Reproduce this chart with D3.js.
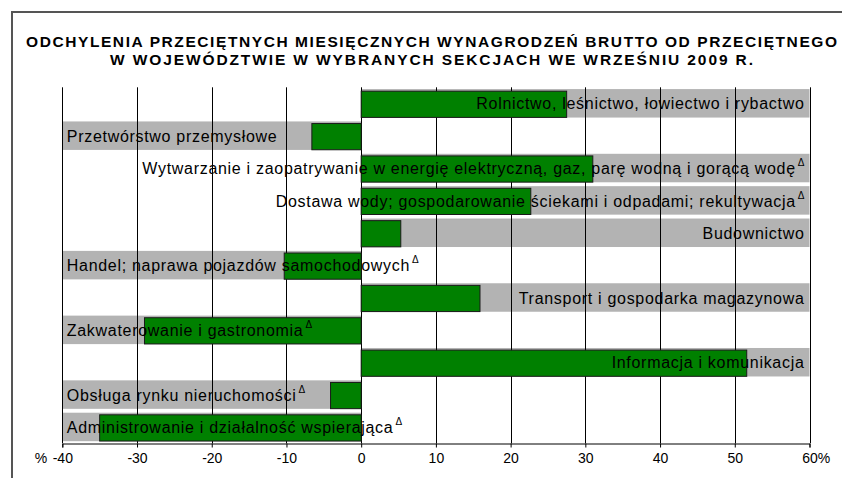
<!DOCTYPE html>
<html><head><meta charset="utf-8">
<script src="https://cdn.jsdelivr.net/npm/d3@7"></script>
<style>
html,body{margin:0;padding:0;background:#fff;}
svg{display:block;font-family:"Liberation Sans",Arial,sans-serif;}
</style></head>
<body><svg id="chart" width="842" height="478"></svg>
<script>
const titleLines = [
  "ODCHYLENIA PRZECIĘTNYCH MIESIĘCZNYCH WYNAGRODZEŃ BRUTTO OD PRZECIĘTNEGO",
  "W WOJEWÓDZTWIE W WYBRANYCH SEKCJACH WE WRZEŚNIU 2009 R."
];
const categories = [
  "Rolnictwo, leśnictwo, łowiectwo i rybactwo",
  "Przetwórstwo przemysłowe",
  "Wytwarzanie i zaopatrywanie w energię elektryczną, gaz, parę wodną i gorącą wodę",
  "Dostawa wody; gospodarowanie ściekami i odpadami; rekultywacja",
  "Budownictwo",
  "Handel; naprawa pojazdów samochodowych",
  "Transport i gospodarka magazynowa",
  "Zakwaterowanie i gastronomia",
  "Informacja i komunikacja",
  "Obsługa rynku nieruchomości",
  "Administrowanie i działalność wspierająca"
];
const values = [27.5, -6.6, 31.0, 22.7, 5.3, -10.3, 15.9, -29.0, 51.6, -4.1, -35.0];
const flagged = [false, false, true, true, false, true, false, true, false, true, true];
const tickValues = [-40, -30, -20, -10, 0, 10, 20, 30, 40, 50, 60];
const flagMark = "\u0394";

(function () {
const svg = d3.select("#chart");
const pLeft = 62.3, pRight = 809.5, pTop = 87.3, pBottom = 443.3;

// outer frame
svg.append("rect").attr("x", 12).attr("y", 12).attr("width", 840).attr("height", 480)
  .attr("fill", "none").attr("stroke", "#555").attr("stroke-width", 2);

// title
const tl = [{t: titleLines[0], y: 46.8, w: 811}, {t: titleLines[1], y: 65.2, w: 643}];
tl.forEach(d => {
  svg.append("text").attr("x", 431.5).attr("y", d.y).attr("text-anchor", "middle")
    .attr("font-size", 15.5).attr("font-weight", "bold").attr("fill", "#000")
    .attr("textLength", d.w).attr("lengthAdjust", "spacing").text(d.t);
});

const x = d3.scaleLinear().domain([tickValues[0], tickValues[tickValues.length - 1]]).range([pLeft, pRight]);
const y = d3.scaleBand().domain(categories).range([pTop, pBottom]);
const step = y.step();
const [dmin, dmax] = x.domain();

// grey label-background bars
svg.append("g").selectAll("rect").data(categories).join("rect")
  .attr("x", (c, i) => values[i] >= 0 ? x(0) : x(dmin))
  .attr("width", (c, i) => values[i] >= 0 ? x(dmax) - x(0) : x(0) - x(dmin))
  .attr("y", c => y(c) + step * 0.055)
  .attr("height", step * 0.88)
  .attr("fill", "#b3b3b3");

// gridlines
svg.append("g").selectAll("line").data(tickValues).join("line")
  .attr("x1", d => Math.round(x(d)) + 0.5).attr("x2", d => Math.round(x(d)) + 0.5)
  .attr("y1", pTop).attr("y2", pBottom)
  .attr("stroke", "#000").attr("stroke-width", 1);

// axis
const axis = d3.axisBottom(x).tickValues(tickValues).tickSize(4).tickPadding(6)
  .tickFormat(d => d < 0 ? "-" + Math.abs(d) : String(d));
const ag = svg.append("g").attr("transform", `translate(0,${Math.round(pBottom) + 0.5})`).call(axis);
ag.select(".domain").attr("stroke", "#000");
ag.selectAll(".tick line").attr("stroke", "#000");
ag.selectAll(".tick text").attr("font-size", 14).attr("fill", "#000")
  .attr("font-family", "Liberation Sans, Arial, sans-serif");
ag.selectAll(".tick text").each(function(d) {
  const w = this.getComputedTextLength();
  if (d === dmin) {
    ag.append("text").attr("x", x(d) - w / 2 - 5).attr("y", 19.5).attr("text-anchor", "end")
      .attr("font-size", 14).attr("fill", "#000").text("%");
  }
  if (d === dmax) {
    d3.select(this).attr("text-anchor", "start").attr("x", -w / 2).text(d + "%");
  }
});

// green bars
svg.append("g").selectAll("rect").data(categories).join("rect")
  .attr("x", (c, i) => x(Math.min(0, values[i])))
  .attr("width", (c, i) => Math.abs(x(values[i]) - x(0)))
  .attr("y", c => y(c) + step * 0.12)
  .attr("height", step * 0.81)
  .attr("fill", "#008000").attr("stroke", "#1a1a1a").attr("stroke-width", 1);

// labels
const lg = svg.append("g");
categories.forEach((c, i) => {
  const pos = values[i] >= 0;
  const t = lg.append("text")
    .attr("x", pos ? x(dmax) - 5 : x(dmin) + 4.5)
    .attr("y", y(c) + step / 2 + 6)
    .attr("text-anchor", pos ? "end" : "start")
    .attr("font-size", 16).attr("letter-spacing", 0.7).attr("fill", "#000");
  t.append("tspan").text(c);
  if (flagged[i]) {
    t.append("tspan").attr("font-size", 10).attr("dx", 2).attr("dy", -8).attr("letter-spacing", 0).text(flagMark);
  }
});
})();
</script></body></html>
